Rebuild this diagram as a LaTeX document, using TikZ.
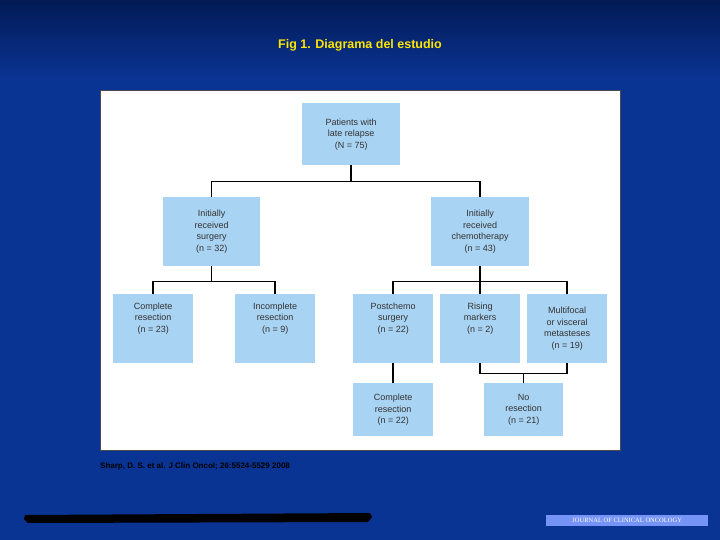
\documentclass[tikz,border=0pt]{standalone}
\usepackage{fontspec}
\setmainfont{Liberation Sans}
\newfontfamily\jserif{Liberation Serif}
\definecolor{bgblue}{HTML}{0A3494}
\definecolor{bgdark}{HTML}{021A55}
\definecolor{boxblue}{HTML}{A9D3F2}
\definecolor{txt}{HTML}{333333}
\definecolor{titley}{HTML}{FFE600}
\tikzset{
  bx/.style={fill=boxblue, text=txt, align=center, font=\fontsize{9}{11.5}\selectfont, inner sep=0pt},
  ln/.style={line width=1.5pt, black}
}
\newcommand{\bxat}[6]{\node[bx, minimum width=#3pt, minimum height=#4pt, anchor=north west] (#1) at (#2) {#6};}
\begin{document}
\begin{tikzpicture}[x=1pt,y=-1pt]
\useasboundingbox (0,0) rectangle (720,540);
\shade[top color=bgdark, bottom color=bgblue, middle color=bgblue] (0,0) rectangle (720,540);
\fill[bgblue] (0,80) rectangle (720,540);
\shade[top color=bgdark, bottom color=bgblue] (0,0) rectangle (720,80);
\node[text=titley, font=\bfseries\fontsize{12.5}{14}\selectfont] (title) at (360,45) {Fig 1. Diagrama del estudio};
\node[draw=black!70, line width=1pt, fill=white, minimum width=520pt, minimum height=360pt, anchor=north west, inner sep=0pt] (panel) at (100,90) {};
\bxat{top}{302,103}{98}{62}{}{Patients with\\late relapse\\(N = 75)}
\bxat{lm}{163,197}{97}{69}{}{Initially\\received\\surgery\\(n = 32)}
\bxat{rm}{431,197}{98}{69}{}{Initially\\received\\chemotherapy\\(n = 43)}
\bxat{cr}{113,294}{80}{69}{}{Complete\\resection\\(n = 23)\\[11pt]}
\bxat{ir}{235,294}{80}{69}{}{Incomplete\\resection\\(n = 9)\\[11pt]}
\bxat{ps}{353,294}{80}{69}{}{Postchemo\\surgery\\(n = 22)\\[11pt]}
\bxat{rk}{440,294}{80}{69}{}{Rising\\markers\\(n = 2)\\[11pt]}
\bxat{mf}{527,294}{80}{69}{}{Multifocal\\or visceral\\metasteses\\(n = 19)}
\bxat{cr2}{353,383}{80}{53}{}{Complete\\resection\\(n = 22)}
\bxat{nr}{484,383}{79}{53}{}{No\\resection\\(n = 21)}
\draw[ln] (top.south) -- ++(0,16) -| (lm.north);
\draw[ln] (top.south) ++(0,16) -| (rm.north);
\draw[ln] (lm.south) -- ++(0,15) -| (cr.north);
\draw[ln] (lm.south) ++(0,15) -| (ir.north);
\draw[ln] (rm.south) -- ++(0,15) -| (ps.north);
\draw[ln] (rm.south) ++(0,15) -| (mf.north);
\draw[ln] (rk.north) -- ++(0,-13);
\draw[ln] (ps.south) -- (cr2.north);
\draw[ln] (rk.south) -- ++(0,10) -| (mf.south);
\draw[ln] (nr.north) -- ++(0,-10);
\node[anchor=west, text=black, font=\bfseries\fontsize{8}{9}\selectfont, inner sep=0pt] (cite) at (100,466) {Sharp, D. S. et al. J Clin Oncol; 26:5524-5529 2008};
\fill[black] (25,515) -- (370,513) -- (372,517) -- (368,522) -- (28,523) -- (24,519) -- cycle;
\node[fill=boxblue!70!blue, text=white, font=\jserif\fontsize{6.5}{7}\selectfont, minimum width=162pt, minimum height=11pt, inner sep=0pt, anchor=north west] (logo) at (546,515) {JOURNAL OF CLINICAL ONCOLOGY};
\end{tikzpicture}
\end{document}
